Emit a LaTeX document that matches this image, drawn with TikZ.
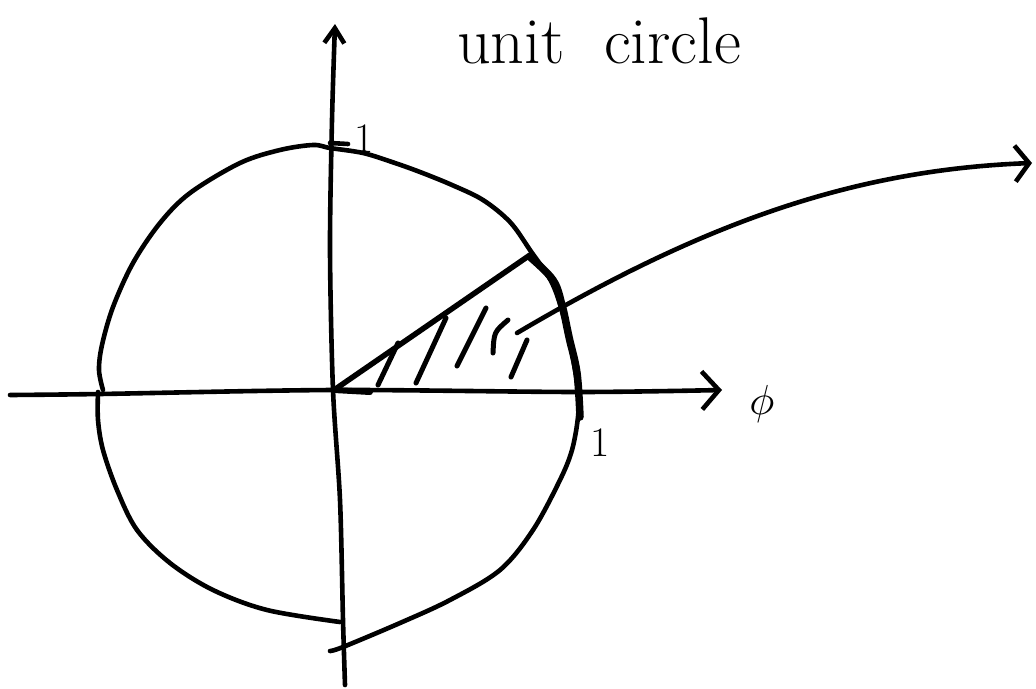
\documentclass[tikz,border=0pt]{standalone}
\usetikzlibrary{arrows.meta}
\begin{document}
\begin{tikzpicture}[x=1pt,y=-1pt,
  pen/.style={line width=4.6pt, line cap=round, line join=round},
  thickpen/.style={line width=7.5pt, line cap=round, line join=round},
  hatch/.style={line width=5pt, line cap=round},
  lbl/.style={inner sep=0pt},
  barbx/.style={-{Straight Barb[length=17pt,width=38pt,line width=4.6pt]}},
  barby/.style={-{Straight Barb[length=15pt,width=20pt,line width=4.6pt]}},
  barbc/.style={-{Straight Barb[length=14pt,width=36pt,line width=4.6pt]}}]
\useasboundingbox (0,0) rectangle (1036,688);
% named points
\coordinate (O) at (334,390);
\coordinate (P) at (530,255);
\coordinate (R) at (578,393);
% axes
\draw[pen,barbx] plot[smooth,tension=0.5] coordinates {(10,395) (100,394) (334,390) (578,392) (722,390)};
\draw[pen,barby] plot[smooth,tension=0.5] coordinates {(345,685) (343,620) (340,500) (333,390) (330,250) (332,120) (335,24)};
% circle (hand drawn, three strokes)
\draw[pen] plot[smooth,tension=0.55] coordinates {(103,390) (99,370) (102,345) (113,307) (133,263) (160,223) (190,193) (240,163) (280,150) (313,145) (330,148) (363,153) (392,162) (420,172) (452,185) (483,200) (510,222) (530,250) (553,285) (567,330) (575,370) (578,393) (578,417) (572,450) (560,480) (533,530) (500,570) (450,600) (400,623) (343,647) (330,651)};
\draw[pen] plot[smooth,tension=0.55] coordinates {(98,392) (98,420) (103,450) (117,490) (137,530) (170,563) (213,590) (267,610) (340,622)};
\draw[pen] (330,143) -- (348,144);
% sector
\draw[line width=5.5pt,line cap=round] (O) -- (P);
\draw[line width=6pt,line cap=round] (O) -- (370,392);
\draw[thickpen] plot[smooth,tension=0.6] coordinates {(530,257) (553,280) (562,305) (569,337) (577,373) (580,417)};
% hatching
\draw[hatch] (398,343) -- (378,385);
\draw[hatch] (446,318) -- (416,383);
\draw[hatch] (486,308) -- (457,366);
\draw[hatch] (508,320) .. controls (494,332) .. (493,353);
\draw[hatch] (527,340) -- (511,377);
% curved arrow
\coordinate (S) at (517,333);
\coordinate (E) at (1032,163);
\draw[pen,barbc] (S) .. controls (700,225) and (850,170) .. (E);
% labels
\node[lbl, font=\fontsize{66}{66}\selectfont, anchor=base] (title) at (599,63) {unit\hspace{0.3em} circle};
\node[lbl, font=\fontsize{42}{42}\selectfont] (one1) at (364,139) {1};
\node[lbl, font=\fontsize{42}{42}\selectfont] (one2) at (600,443) {1};
\node[lbl] (phi) at (762,404) {\scalebox{4.2}{$\phi$}};
\end{tikzpicture}
\end{document}
